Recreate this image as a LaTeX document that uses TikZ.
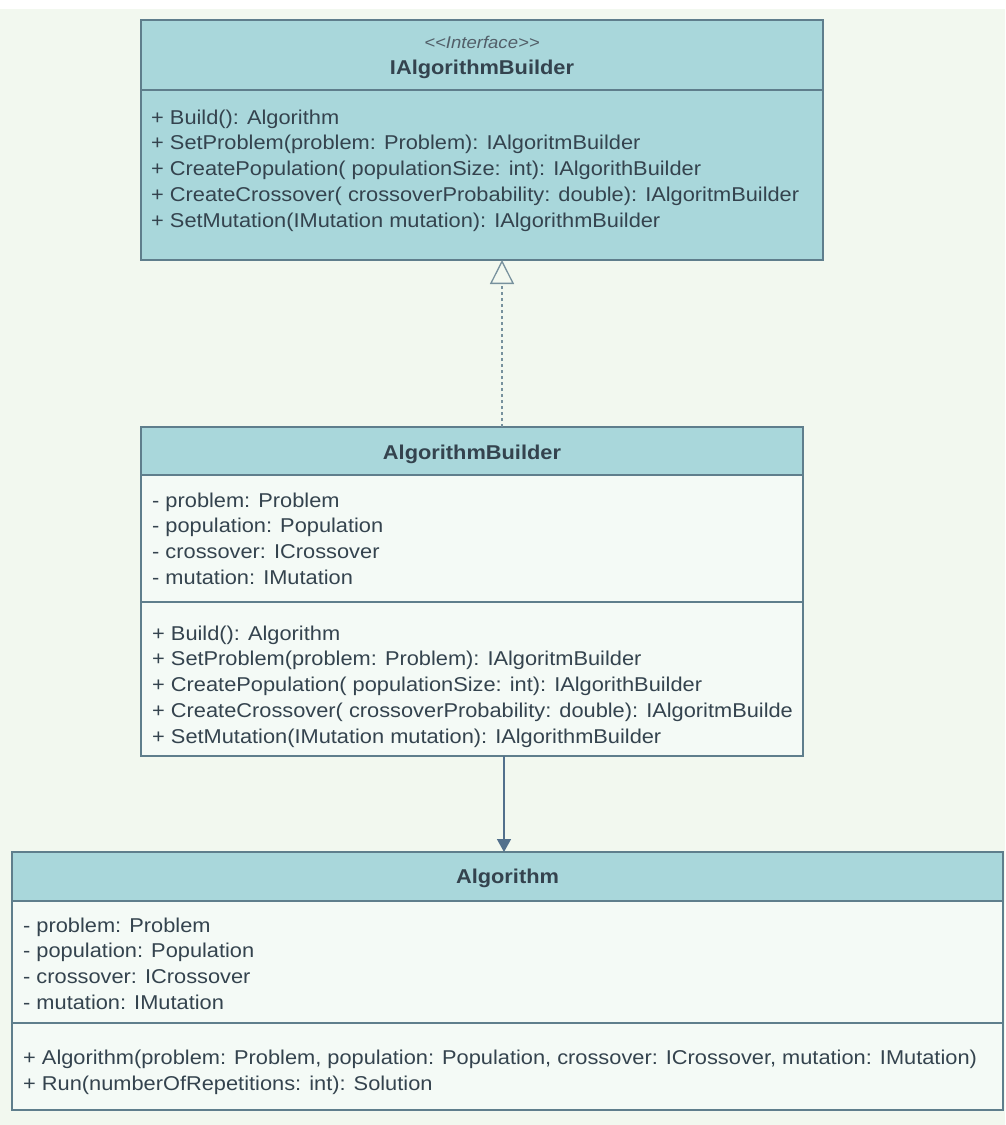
\documentclass[tikz,border=0pt]{standalone}
\usepackage{fontspec}
\setmainfont{Liberation Sans}[FakeStretch=1.09]
\usetikzlibrary{arrows.meta}
\definecolor{pagebg}{HTML}{F2F8EF}
\definecolor{hdrfill}{HTML}{A9D7DB}
\definecolor{bodyfill}{HTML}{F4FAF6}
\definecolor{edgecol}{HTML}{5F7E8C}
\definecolor{txtcol}{HTML}{34434E}
\definecolor{arrcol}{HTML}{52708C}
\begin{document}
\begin{tikzpicture}[x=1pt,y=-1pt,
  classbox/.style={draw=edgecol, line width=1.3pt, anchor=north west, inner sep=0pt, outer sep=0pt},
  sepline/.style={draw=edgecol, line width=1.3pt},
  member/.style={anchor=base west, inner sep=0pt, text=txtcol, font=\fontsize{20}{24}\selectfont},
  ctitle/.style={anchor=base, inner sep=0pt, text=txtcol, font=\fontsize{20}{24}\selectfont\bfseries},
  stereo/.style={anchor=base, inner sep=0pt, text=txtcol!85, font=\fontsize{17}{20}\selectfont\itshape},
  realize/.style={draw=edgecol!85, line width=1.3pt, dash pattern=on 3pt off 3pt, -{Triangle[open, width=24pt, length=24pt, line width=1.3pt]}},
  assoc/.style={draw=arrcol, line width=1.5pt, -{Triangle[width=14pt, length=13pt]}}
]
\useasboundingbox (0,0) rectangle (1005,1125);
\fill[pagebg] (0,0) rectangle (1005,1125);
\fill[white] (0,0) rectangle (1005,9);

% ---------- IAlgorithmBuilder ----------
\node[classbox, fill=hdrfill, minimum width=682pt, minimum height=240pt] (ib) at (141,20) {};
\draw[sepline] (ib.west |- 0,90) -- (ib.east |- 0,90);
\node[stereo] (ibst) at (482,48) {{<}{<}Interface{>}{>}};
\node[ctitle] (ibt) at (482,74) {IAlgorithmBuilder};
\foreach \t [count=\i from 0] in {{+ Build(): Algorithm},{+ SetProblem(problem: Problem): IAlgoritmBuilder},{+ CreatePopulation( populationSize: int): IAlgorithBuilder},{+ CreateCrossover( crossoverProbability: double): IAlgoritmBuilder},{+ SetMutation(IMutation mutation): IAlgorithmBuilder}}
  \node[member] (ibm\i) at (151,{124+25.8*\i}) {\t};

% ---------- AlgorithmBuilder ----------
\node[classbox, fill=bodyfill, minimum width=662pt, minimum height=329pt] (ab) at (141,427) {};
\fill[hdrfill] (ab.north west) rectangle (ab.east |- 0,475);
\draw[sepline] (ab.west |- 0,475) -- (ab.east |- 0,475);
\draw[sepline] (ab.west |- 0,602) -- (ab.east |- 0,602);
\draw[sepline] (ab.north west) rectangle (ab.south east);
\node[ctitle] (abt) at (472,459) {AlgorithmBuilder};
\foreach \t [count=\i from 0] in {{- problem: Problem},{- population: Population},{- crossover: ICrossover},{- mutation: IMutation}}
  \node[member] (aba\i) at (152,{507+25.7*\i}) {\t};
\foreach \t [count=\i from 0] in {{+ Build(): Algorithm},{+ SetProblem(problem: Problem): IAlgoritmBuilder},{+ CreatePopulation( populationSize: int): IAlgorithBuilder},{+ CreateCrossover( crossoverProbability: double): IAlgoritmBuilde},{+ SetMutation(IMutation mutation): IAlgorithmBuilder}}
  \node[member] (abm\i) at (152,{640+25.75*\i}) {\t};

% ---------- Algorithm ----------
\node[classbox, fill=bodyfill, minimum width=991pt, minimum height=258pt] (al) at (12,852) {};
\fill[hdrfill] (al.north west) rectangle (al.east |- 0,901);
\draw[sepline] (al.west |- 0,901) -- (al.east |- 0,901);
\draw[sepline] (al.west |- 0,1023) -- (al.east |- 0,1023);
\draw[sepline] (al.north west) rectangle (al.south east);
\node[ctitle] (alt) at (507.5,883) {Algorithm};
\foreach \t [count=\i from 0] in {{- problem: Problem},{- population: Population},{- crossover: ICrossover},{- mutation: IMutation}}
  \node[member] (ala\i) at (23,{932+25.7*\i}) {\t};
\foreach \t [count=\i from 0] in {{+ Algorithm(problem: Problem, population: Population, crossover: ICrossover, mutation: IMutation)},{+ Run(numberOfRepetitions: int): Solution}}
  \node[member] (alm\i) at (23,{1064+26*\i}) {\t};

% ---------- connectors ----------
\draw[realize] (ab.north -| 502,0) -- (ib.south -| 502,0);
\draw[assoc] (ab.south -| 504,0) -- (al.north -| 504,0);
\end{tikzpicture}
\end{document}
